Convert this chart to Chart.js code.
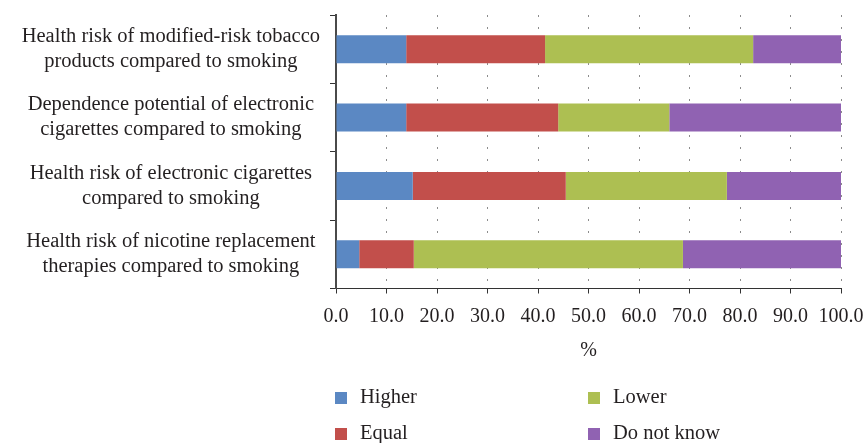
<!DOCTYPE html>
<html>
<head>
<meta charset="utf-8">
<script src="https://cdn.jsdelivr.net/npm/chart.js@4"></script>
<style>
  html, body { margin: 0; padding: 0; background: #fff; }
  #wrap { width: 865px; height: 443px; position: relative; }
</style>
</head>
<body>
<div id="wrap"><canvas id="chart"></canvas></div>
<script>
const categories = [
    ['Health risk of modified-risk tobacco', 'products compared to smoking'],
    ['Dependence potential of electronic', 'cigarettes compared to smoking'],
    ['Health risk of electronic cigarettes', 'compared to smoking'],
    ['Health risk of nicotine replacement', 'therapies compared to smoking']
];
const higher = [13.9, 13.9, 15.2, 4.6];
const equal = [27.5, 30.1, 30.3, 10.8];
const lower = [41.2, 22.0, 31.9, 53.3];
const dontKnow = [17.4, 34.0, 22.6, 31.3];
const xTicks = [0, 10, 20, 30, 40, 50, 60, 70, 80, 90, 100];

const textColor = '#231f20';
const serif = "'Liberation Serif', 'Times New Roman', serif";

// legend laid out in two columns like the original
const gridLegend = {
    id: 'gridLegend',
    afterDraw(chart) {
        const ctx = chart.ctx;
        const spots = [[335, 398], [335, 434], [588, 398], [588, 434]];
        ctx.save();
        ctx.font = '20.5px ' + serif;
        ctx.textBaseline = 'middle';
        chart.data.datasets.forEach((ds, i) => {
            const [x, y] = spots[i];
            ctx.fillStyle = ds.backgroundColor;
            ctx.fillRect(x, y - 6, 12, 12);
            ctx.fillStyle = textColor;
            ctx.fillText(ds.label, x + 25, y);
        });
        ctx.restore();
    }
};

new Chart(document.getElementById('chart'), {
    type: 'bar',
    data: {
        labels: categories,
        datasets: [
            { label: 'Higher', data: higher, backgroundColor: '#5b88c3' },
            { label: 'Equal', data: equal, backgroundColor: '#c24f4b' },
            { label: 'Lower', data: lower, backgroundColor: '#adbf52' },
            { label: 'Do not know', data: dontKnow, backgroundColor: '#9062b2' }
        ].map(d => Object.assign(d, {
            barPercentage: 0.41,
            categoryPercentage: 1,
            borderWidth: 0
        }))
    },
    plugins: [gridLegend],
    options: {
        indexAxis: 'y',
        responsive: true,
        maintainAspectRatio: false,
        animation: false,
        layout: {
            padding: { top: 15, right: 24, bottom: 73, left: 0 }
        },
        scales: {
            x: {
                stacked: true,
                min: 0,
                max: 100,
                afterBuildTicks: (scale) => {
                    scale.ticks = xTicks.map(v => ({ value: v }));
                },
                afterFit: (scale) => {
                    scale.height = 81.5;
                    scale.paddingLeft = 0;
                    scale.paddingRight = 0;
                },
                ticks: {
                    callback: (v) => Number(v).toFixed(1),
                    color: textColor,
                    font: { family: serif, size: 20 },
                    padding: 11,
                    maxRotation: 0,
                    autoSkip: false
                },
                grid: {
                    color: '#8c8c8c',
                    lineWidth: 1,
                    tickLength: 5,
                    tickColor: '#333',
                    drawTicks: true
                },
                border: {
                    display: true,
                    color: '#333',
                    width: 1,
                    dash: [2, 10]
                },
                title: {
                    display: true,
                    text: '%',
                    color: textColor,
                    font: { family: serif, size: 20 },
                    padding: { top: 0, bottom: 7 }
                }
            },
            y: {
                stacked: true,
                afterFit: (scale) => {
                    scale.width = 336;
                    scale.paddingTop = 0;
                    scale.paddingBottom = 0;
                },
                ticks: {
                    color: textColor,
                    font: { family: serif, size: 20.5, lineHeight: 1.22 },
                    crossAlign: 'center',
                    padding: 10,
                    autoSkip: false
                },
                grid: {
                    offset: true,
                    drawOnChartArea: false,
                    tickLength: 6,
                    tickColor: '#333'
                },
                border: {
                    display: true,
                    color: '#4a4a4a',
                    width: 2
                }
            }
        },
        plugins: {
            legend: { display: false },
            tooltip: { enabled: false }
        }
    }
});
</script>
</body>
</html>
